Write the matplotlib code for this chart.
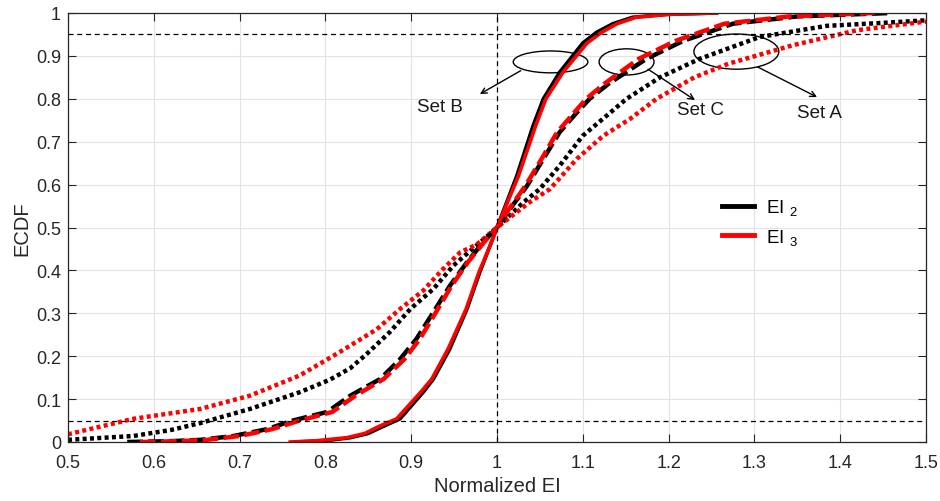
import matplotlib
matplotlib.use('Agg')
import matplotlib.pyplot as plt
from matplotlib.patches import Ellipse
from matplotlib.lines import Line2D

plt.rcParams['font.family'] = ['Liberation Sans', 'DejaVu Sans']
plt.rcParams['mathtext.fontset'] = 'custom'
plt.rcParams['mathtext.rm'] = 'Liberation Sans'
plt.rcParams['mathtext.it'] = 'Liberation Sans'

# ECDF levels / normalized EI quantiles for each set
# Set B (solid)
setB_ei2_x = [0.767, 0.80, 0.829, 0.85, 0.867, 0.887, 0.914, 0.926, 0.945, 0.965, 0.98, 0.992,
              1.0, 1.023, 1.042, 1.054, 1.073, 1.10, 1.116, 1.135, 1.158, 1.20, 1.256]
setB_ei2_y = [0.0, 0.003, 0.01, 0.02, 0.036, 0.054, 0.116, 0.147, 0.217, 0.31, 0.396, 0.458,
              0.5, 0.62, 0.737, 0.80, 0.862, 0.93, 0.955, 0.975, 0.99, 0.997, 1.0]
setB_ei3_x = [0.759, 0.79, 0.825, 0.846, 0.862, 0.883, 0.911, 0.924, 0.943, 0.964, 0.979, 0.992,
              1.0, 1.025, 1.045, 1.057, 1.077, 1.105, 1.122, 1.14, 1.162, 1.20, 1.255]
setB_ei3_y = setB_ei2_y

# Set C (dashed)
setC_ei2_x = [0.569, 0.62, 0.654, 0.693, 0.732, 0.762, 0.802, 0.829, 0.864, 0.887, 0.906,
              0.926, 0.945, 0.965, 0.984, 1.0, 1.015, 1.035, 1.054, 1.073, 1.093, 1.108,
              1.13, 1.174, 1.217, 1.275, 1.35, 1.46]
setC_ei2_y = [0.0, 0.002, 0.005, 0.014, 0.03, 0.05, 0.07, 0.108, 0.147, 0.193, 0.24,
              0.303, 0.364, 0.419, 0.466, 0.5, 0.543, 0.597, 0.66, 0.722, 0.768, 0.80,
              0.835, 0.893, 0.935, 0.975, 0.992, 1.0]
setC_ei3_x = [0.584, 0.63, 0.662, 0.70, 0.738, 0.77, 0.808, 0.835, 0.868, 0.892, 0.91,
              0.929, 0.947, 0.966, 0.985, 1.0, 1.014, 1.033, 1.052, 1.07, 1.09, 1.104,
              1.125, 1.165, 1.208, 1.265, 1.34, 1.44]
setC_ei3_y = setC_ei2_y

# Set A (dotted)
setA_ei2_x = [0.5, 0.576, 0.62, 0.654, 0.712, 0.77, 0.805, 0.829, 0.848, 0.875, 0.899, 0.926,
              0.949, 0.969, 0.986, 1.0, 1.031, 1.05, 1.073, 1.10, 1.128, 1.151, 1.19,
              1.236, 1.306, 1.384, 1.45, 1.5]
setA_ei2_y = [0.005, 0.014, 0.028, 0.044, 0.077, 0.116, 0.145, 0.172, 0.205, 0.256, 0.31, 0.357,
              0.411, 0.446, 0.475, 0.5, 0.559, 0.59, 0.644, 0.714, 0.761, 0.80, 0.85,
              0.893, 0.944, 0.97, 0.977, 0.983]
setA_ei3_x = [0.5, 0.576, 0.654, 0.712, 0.77, 0.817, 0.86, 0.887, 0.914, 0.937, 0.957,
              0.976, 1.0, 1.038, 1.062, 1.093, 1.124, 1.155, 1.186, 1.23, 1.27, 1.345, 1.42, 1.5]
setA_ei3_y = [0.018, 0.054, 0.077, 0.108, 0.155, 0.21, 0.263, 0.31, 0.353, 0.403, 0.442,
              0.46, 0.5, 0.559, 0.59, 0.66, 0.714, 0.753, 0.80, 0.85, 0.882, 0.925, 0.96, 0.98]

xticks = [0.5, 0.6, 0.7, 0.8, 0.9, 1, 1.1, 1.2, 1.3, 1.4, 1.5]
yticks = [0, 0.1, 0.2, 0.3, 0.4, 0.5, 0.6, 0.7, 0.8, 0.9, 1]

fig = plt.figure(figsize=(9.4, 5.02), dpi=100)
ax = fig.add_axes([68/940, 59/502, 858/940, 429/502])

dot = (0, (0.9, 0.75))
dash = (0, (3.5, 1.2))
ax.plot(setA_ei2_x, setA_ei2_y, color='k', lw=3.2, ls=dot)
ax.plot(setA_ei3_x, setA_ei3_y, color='r', lw=3.2, ls=dot)
ax.plot(setC_ei2_x, setC_ei2_y, color='k', lw=3.2, ls=dash)
ax.plot(setC_ei3_x, setC_ei3_y, color='r', lw=3.2, ls=dash)
ax.plot(setB_ei2_x, setB_ei2_y, color='k', lw=2.6)
ax.plot(setB_ei3_x, setB_ei3_y, color='r', lw=2.6)

# 5% / 95% levels and the median reference
ax.axhline(0.05, color='k', ls=(0, (4, 3)), lw=0.9)
ax.axhline(0.95, color='k', ls=(0, (4, 3)), lw=0.9)
ax.axvline(1.0, color='k', ls=(0, (4, 3)), lw=0.9)

# set annotations
for (cx, cy, w, h) in [(1.0624, 0.886, 0.087, 0.051),
                       (1.151, 0.886, 0.064, 0.061),
                       (1.279, 0.910, 0.099, 0.082)]:
    ax.add_patch(Ellipse((cx, cy), w, h, fill=False, ec='k', lw=1.0))
arrow = dict(arrowstyle='->', color='k', lw=1.0, shrinkA=0, shrinkB=0)
ax.annotate('', xy=(0.980, 0.811), xytext=(1.0276, 0.8655), arrowprops=arrow)
ax.annotate('', xy=(1.2308, 0.797), xytext=(1.176, 0.869), arrowprops=arrow)
ax.annotate('', xy=(1.373, 0.804), xytext=(1.304, 0.874), arrowprops=arrow)
ax.text(0.9336, 0.781, 'Set B', ha='center', va='center', fontsize=13.5, color='#1a1a1a')
ax.text(1.237, 0.774, 'Set C', ha='center', va='center', fontsize=13.5, color='#1a1a1a')
ax.text(1.376, 0.769, 'Set A', ha='center', va='center', fontsize=13.5, color='#1a1a1a')

handles = [Line2D([], [], color='k', lw=3.5), Line2D([], [], color='r', lw=3.5)]
ax.legend(handles, ['EI $_2$', 'EI $_3$'], loc='center left',
          bbox_to_anchor=(0.742, 0.513), frameon=False, fontsize=13.5,
          handlelength=1.75, handletextpad=0.6, labelspacing=0.5)

ax.set_xlim(0.5, 1.5)
ax.set_ylim(0, 1)
ax.set_xticks(xticks)
ax.set_yticks(yticks)
ax.set_xticklabels(['0.5', '0.6', '0.7', '0.8', '0.9', '1', '1.1', '1.2', '1.3', '1.4', '1.5'])
ax.set_yticklabels(['0', '0.1', '0.2', '0.3', '0.4', '0.5', '0.6', '0.7', '0.8', '0.9', '1'])
ax.grid(True, color='#e3e3e3', lw=0.8)
ax.set_axisbelow(True)
ax.tick_params(direction='in', length=6, width=0.8, top=True, right=True,
               labelsize=13, colors='#262626')
ax.tick_params(axis='x', pad=9)
ax.tick_params(axis='y', pad=5)
for s in ax.spines.values():
    s.set_color('#262626')
    s.set_linewidth(0.9)
ax.set_xlabel('Normalized EI', fontsize=14.5, color='#262626', labelpad=3)
ax.set_ylabel('ECDF', fontsize=14.5, color='#262626', labelpad=3)

fig.savefig('out.png', dpi=100)
